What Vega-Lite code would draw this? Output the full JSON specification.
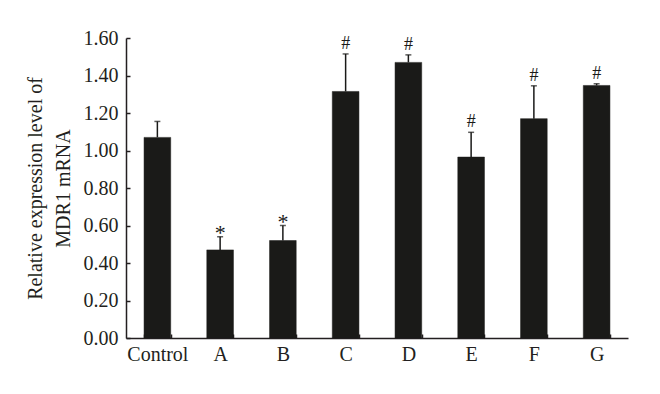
{
  "$schema": "https://vega.github.io/schema/vega-lite/v6.json",
  "autosize": {"type": "none"},
  "width": 502,
  "height": 300,
  "padding": {"left": 126, "top": 38, "right": 32, "bottom": 56},
  "background": "white",
  "config": {
    "view": {"stroke": null},
    "font": "Liberation Serif",
    "axis": {
      "labelFont": "Liberation Serif",
      "titleFont": "Liberation Serif",
      "labelColor": "#231f20",
      "titleColor": "#231f20",
      "domainColor": "#231f20",
      "tickColor": "#231f20",
      "domainWidth": 1.5,
      "tickWidth": 1.5,
      "grid": false,
      "labelFontSize": 20,
      "titleFontSize": 20,
      "titleFontWeight": "normal",
      "labelOverlap": false,
      "labelFlush": false,
      "labelBound": false
    }
  },
  "data": {
    "values": [
      {"group": "Control", "value": 1.07, "upper": 1.155, "sig": ""},
      {"group": "A", "value": 0.47, "upper": 0.54, "sig": "*"},
      {"group": "B", "value": 0.52, "upper": 0.60, "sig": "*"},
      {"group": "C", "value": 1.315, "upper": 1.515, "sig": "#"},
      {"group": "D", "value": 1.47, "upper": 1.51, "sig": "#"},
      {"group": "E", "value": 0.965, "upper": 1.097, "sig": "#"},
      {"group": "F", "value": 1.17, "upper": 1.345, "sig": "#"},
      {"group": "G", "value": 1.347, "upper": 1.356, "sig": "#"}
    ]
  },
  "encoding": {
    "x": {
      "field": "group",
      "type": "nominal",
      "sort": null,
      "scale": {"paddingInner": 0.575, "paddingOuter": 0.2875},
      "axis": {
        "title": null,
        "labelAngle": 0,
        "tickBand": "extent",
        "tickSize": -4,
        "labelPadding": 10
      }
    },
    "y": {
      "field": "value",
      "type": "quantitative",
      "scale": {"domain": [0, 1.6]},
      "axis": {
        "title": ["Relative expression level of", "MDR1 mRNA"],
        "titleLineHeight": 28,
        "titlePadding": 10,
        "values": [0, 0.2, 0.4, 0.6, 0.8, 1.0, 1.2, 1.4, 1.6],
        "labelOverlap": false,
        "format": ".2f",
        "tickSize": -4,
        "labelPadding": 12
      }
    }
  },
  "layer": [
    {
      "mark": {"type": "bar", "color": "#1a1a18", "stroke": "#1a1a18", "strokeWidth": 0.5}
    },
    {
      "mark": {"type": "rule", "color": "#1a1a18", "strokeWidth": 1.5},
      "encoding": {
        "y2": {"field": "upper"}
      }
    },
    {
      "mark": {"type": "tick", "color": "#1a1a18", "thickness": 1.5, "size": 6},
      "encoding": {
        "y": {"field": "upper", "type": "quantitative", "axis": {
          "title": ["Relative expression level of", "MDR1 mRNA"],
          "titleLineHeight": 28,
          "titlePadding": 10,
          "values": [0, 0.2, 0.4, 0.6, 0.8, 1.0, 1.2, 1.4, 1.6],
          "labelOverlap": false,
          "format": ".2f",
          "tickSize": -4,
          "labelPadding": 12
        }}
      }
    },
    {
      "transform": [{"filter": "datum.sig == '#'"}],
      "mark": {"type": "text", "color": "#1a1a18", "fontSize": 18, "baseline": "alphabetic", "dy": -5},
      "encoding": {
        "y": {"field": "upper", "type": "quantitative", "axis": {
          "title": ["Relative expression level of", "MDR1 mRNA"],
          "titleLineHeight": 28,
          "titlePadding": 10,
          "values": [0, 0.2, 0.4, 0.6, 0.8, 1.0, 1.2, 1.4, 1.6],
          "labelOverlap": false,
          "format": ".2f",
          "tickSize": -4,
          "labelPadding": 12
        }},
        "text": {"field": "sig"}
      }
    },
    {
      "transform": [{"filter": "datum.sig == '*'"}],
      "mark": {"type": "text", "color": "#1a1a18", "fontSize": 22, "baseline": "alphabetic", "dy": 3},
      "encoding": {
        "y": {"field": "upper", "type": "quantitative", "axis": {
          "title": ["Relative expression level of", "MDR1 mRNA"],
          "titleLineHeight": 28,
          "titlePadding": 10,
          "values": [0, 0.2, 0.4, 0.6, 0.8, 1.0, 1.2, 1.4, 1.6],
          "labelOverlap": false,
          "format": ".2f",
          "tickSize": -4,
          "labelPadding": 12
        }},
        "text": {"field": "sig"}
      }
    }
  ]
}
